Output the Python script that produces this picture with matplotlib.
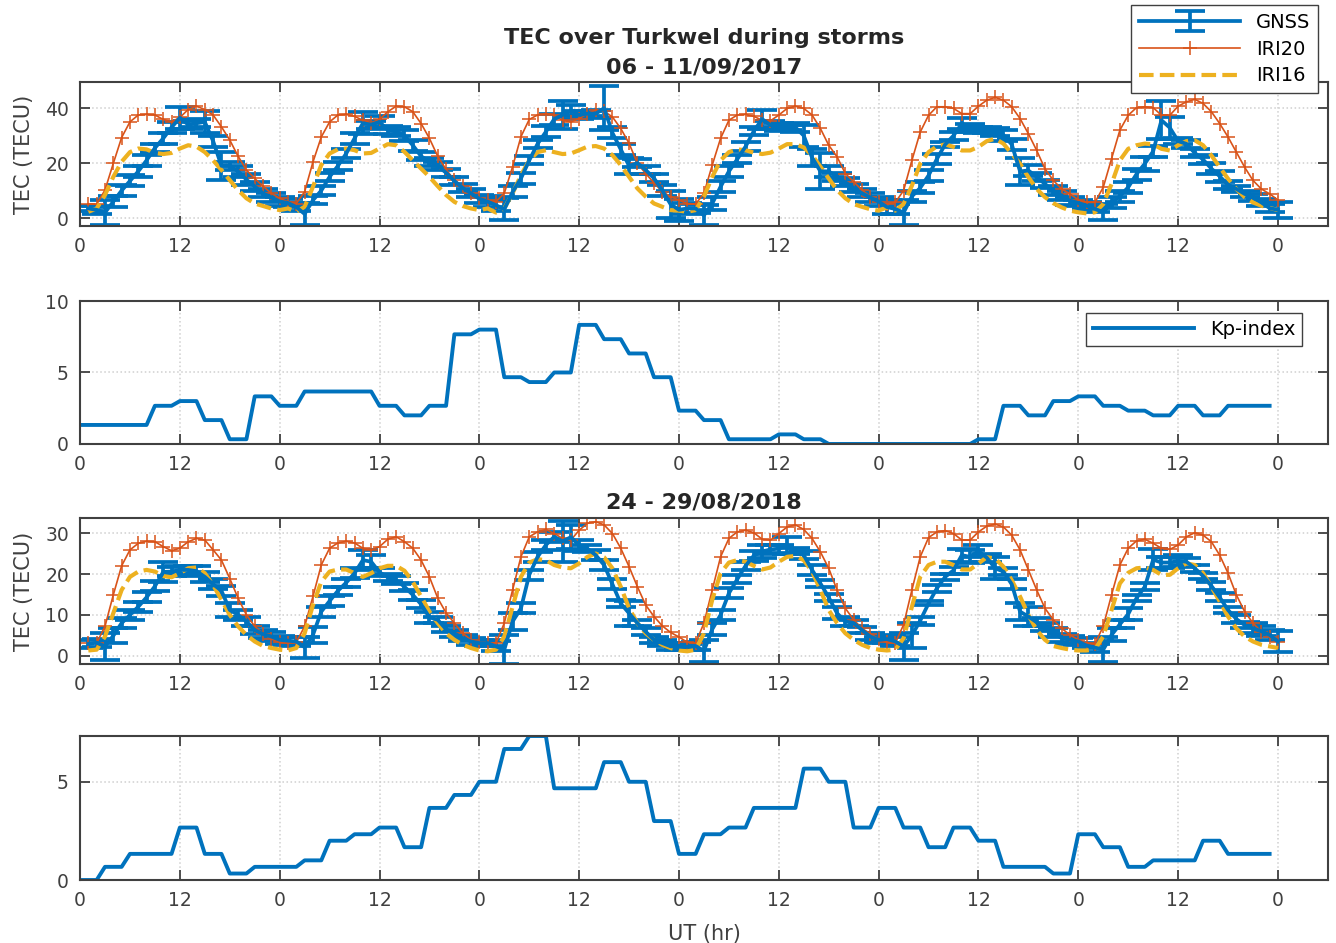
import matplotlib.pyplot as plt
import numpy as np

# hourly TEC samples, 3-hourly Kp index (shown as hourly steps)
hours = np.arange(1, 145)
kp_hours = np.arange(0, 144)

xticks = np.arange(0, 145, 12)
xticklabels = ['0', '12'] * 6 + ['0']

# ---- storm 1: 06 - 11/09/2017 ----
gnss_2017 = [3.5, 3, 2, 6, 10, 13.5, 17, 21, 25.5, 29, 33, 36.5, 34, 34.5, 35, 28, 19, 19, 17, 14, 11.5, 9, 7.5, 6,
             5.5, 4, 1.5, 6.5, 10, 15, 19, 23.5, 29, 34.5, 34, 35, 32, 31.5, 30, 26.5, 22.5, 20.5, 19, 16.5, 13.5, 11, 9, 7,
             6, 4.7, 3.2, 9.5, 14.4, 21, 27, 31.4, 36, 37.5, 39, 37.5, 38, 38, 40, 31, 25, 19, 20, 17.5, 14.5, 10, 5, 3,
             3.5, 3.5, 1, 5.3, 11.4, 17, 21.4, 26, 31.7, 36, 33.8, 33.2, 33, 33, 30, 22, 17, 17, 15, 13, 11, 9, 7.5, 6,
             4, 3.3, 2, 7.9, 11, 15.5, 21.5, 26.8, 30, 34.4, 32.9, 32, 32, 31.4, 30.2, 26.8, 17, 17.3, 15, 12.4, 10, 8.2, 6.3, 5.5,
             4.5, 3.3, 2.2, 5.5, 8, 11.2, 16, 19.8, 24.3, 35.6, 32.9, 28, 27, 23.7, 21.3, 18, 15.2, 12.1, 10.6, 8.8, 7.5, 5.7, 3.6, 3]
gnss_err_2017 = [1, 1.5, 4.5, 2, 2, 2, 2, 2, 1.5, 2, 2, 4, 1.5, 1.5, 4, 2, 5, 1.5, 2, 2, 1.5, 1.5, 1.5, 1.5,
                 1.5, 1.5, 4, 1.5, 1.5, 1.5, 1.5, 1.5, 2, 4, 1.5, 2, 1.5, 1.5, 2, 2, 1.5, 1.5, 1.5, 1.5, 1.5, 1.5, 1.5, 1.5,
                 2, 2, 4, 2, 2, 1.5, 1.5, 2, 2, 5, 2, 1.5, 1, 1.5, 8, 2, 2, 3, 1.5, 1.5, 1.5, 2, 5, 4,
                 2, 1.5, 3.6, 2.5, 2, 2, 1.5, 1.5, 1.5, 3.5, 1.5, 1.5, 1, 1.5, 4, 3, 6.5, 2, 1.5, 1.5, 1.5, 1.5, 1.5, 1.5,
                 2.4, 2, 4.4, 2, 2, 2, 1.7, 1, 1.5, 2, 1.5, 1.2, 1, 1.5, 2, 2, 5, 2, 1.5, 1.5, 1.5, 1.5, 1.5, 1,
                 1.2, 1.2, 3, 2, 2, 2, 2, 2.5, 2, 7, 4, 1, 1.5, 1.5, 1.5, 2, 2, 1.5, 1.2, 1.2, 1.2, 1.2, 1.5, 3]
iri20_2017 = [5.1, 5, 10.2, 19.9, 29.3, 35, 37.5, 37.7, 37.5, 35.9, 35, 36.6, 39.5, 40.7, 39.5, 37.5, 33.2, 28.4, 22.5, 17.5, 14.4, 11.6, 9, 7.2,
              5.9, 5.3, 9.6, 20.4, 29.5, 35, 37.5, 37.7, 37, 35.6, 34.7, 35.9, 38.7, 40.7, 40.5, 38.7, 34.4, 29, 22.5, 17.7, 13.8, 11.6, 9, 7.2,
              6.5, 6, 9, 18.7, 29.6, 35.9, 37.5, 38, 37.5, 35.6, 35, 36.2, 38, 39.3, 38.9, 36.8, 32.6, 27.2, 19.9, 16.2, 12.8, 9.6, 7.8, 6.5,
              5.3, 5.1, 9, 19.3, 29, 35.6, 37.5, 37.7, 37, 35.6, 35.4, 37.5, 39.9, 40.7, 39.9, 37.5, 32.6, 26.5, 22.3, 16.2, 13.2, 10.2, 7.8, 5.9,
              5.1, 5.7, 10, 21, 31.3, 37.4, 40.5, 40.5, 39.9, 38, 38, 40.7, 42.9, 43.9, 42.9, 40.5, 36.2, 30.7, 24.6, 17.9, 13.7, 10.6, 8.8, 6.6,
              5.7, 5.7, 11.2, 21.6, 32, 37.4, 40.2, 40.5, 40.2, 37.4, 37.4, 40.7, 42.3, 43.2, 41.7, 38.7, 34.4, 29.5, 24, 18.5, 13.7, 10.6, 8.8, 6.6]
iri16_2017 = [2.3, 3.5, 8.4, 15, 20.5, 24, 25.3, 25, 23.7, 23.3, 23.7, 25.3, 26.5, 26, 24, 21, 17.5, 13.8, 10.2, 7.2, 5.3, 4.4, 3.5, 2.9,
              3.5, 2.3, 4.1, 11.4, 19.3, 23.5, 25, 25.3, 24.7, 23.5, 23.7, 25.3, 26.9, 26.5, 24.1, 21, 18, 15, 11.6, 8.4, 5.9, 4.4, 3.5, 2.9,
              3.5, 2, 3.5, 9, 15.6, 21, 24, 24.7, 24, 23.3, 23.5, 24.7, 26, 26.2, 25.3, 22.9, 19.3, 15, 10.8, 7.8, 5.3, 4.1, 2.9, 2.7,
              2.3, 2.9, 7.8, 15, 21, 24, 25, 24.7, 23.8, 23.3, 23.8, 25.3, 26.9, 26.9, 25.7, 22.9, 18.7, 14.4, 10.2, 7.2, 5.1, 4.1, 3.2, 2.7,
              3.9, 2.7, 5.1, 11.8, 19.8, 24, 26.1, 26.8, 25.9, 24.6, 24.6, 25.9, 28, 28.9, 27.1, 23.4, 19.8, 14.9, 10.6, 7.6, 5.4, 3.9, 2.7, 2.1,
              1.7, 2.1, 5.1, 12.4, 21, 25.2, 26.5, 27.1, 26.8, 25.2, 24.6, 26.5, 28, 28.3, 26.5, 22.8, 18.5, 14.3, 10.6, 7.6, 5.7, 4.5, 3.7, 2.9]
kp_2017 = [1.33, 1.33, 1.33, 2.67, 3, 1.67, 0.33, 3.33, 2.67, 3.67, 3.67, 3.67, 2.67, 2, 2.67, 7.67,
           8, 4.67, 4.33, 5, 8.33, 7.33, 6.33, 4.67, 2.33, 1.67, 0.33, 0.33, 0.67, 0.33, 0, 0,
           0, 0, 0, 0, 0.33, 2.67, 2, 3, 3.33, 2.67, 2.33, 2, 2.67, 2, 2.67, 2.67]

# ---- storm 2: 24 - 29/08/2018 ----
gnss_2018 = [2.9, 3.2, 2.3, 4.9, 8, 10, 12, 14.3, 17, 20.5, 20.6, 21, 21, 20.7, 19.3, 17.5, 15.9, 11.2, 10, 8.4, 6.3, 5.3, 4.7, 3.9,
             3.7, 3.5, 2.1, 5.1, 10.8, 13.4, 15.9, 17.9, 20.2, 23.4, 23, 20.4, 19.2, 18.5, 16.9, 14.9, 12.6, 9.4, 8.8, 6.5, 5.5, 4.3, 3.5, 3.1,
             3.1, 2.3, 1.5, 8.4, 11.6, 19.8, 24.2, 27.1, 29.1, 28, 29, 27, 26.2, 24.6, 22.2, 17.5, 12.8, 10.4, 8, 5.9, 3.9, 3.1, 2.3, 2.3,
             2.2, 2.4, 1.2, 6.5, 10, 15.3, 18.7, 22, 24.5, 25.5, 26, 26.2, 27, 25.6, 24.6, 21, 17.7, 14.3, 10.4, 8.4, 8, 6.3, 4.7, 3.9,
             4.1, 3.5, 2.3, 5, 8.6, 12.8, 16.5, 19.3, 20.9, 24.6, 24.2, 25.6, 24, 21.4, 20.6, 17.5, 10.8, 9.6, 8.2, 7, 5.7, 4.3, 3.9, 3.5,
             2.5, 2, 1.5, 5.1, 7.7, 10.2, 14.1, 16.9, 23.5, 22.8, 22.8, 23.2, 23, 21.4, 19.5, 17.1, 14.3, 11.2, 9, 7.5, 6.7, 6, 5.1, 3.5]
gnss_err_2018 = [1, 1, 3.3, 1.8, 1.2, 1.2, 1.2, 1.2, 1.2, 2.5, 1, 1, 1, 1.2, 1.2, 1.2, 1.2, 1.8, 1.2, 1.2, 1, 1, 1, 1,
                 1, 1.2, 2.6, 2, 1.2, 1.2, 1, 1, 1.2, 2.5, 1.6, 1, 0.8, 1, 1, 1.2, 1, 1.4, 0.8, 0.8, 0.8, 0.8, 0.8, 0.8,
                 0.8, 1.2, 3.5, 2, 1.2, 1.2, 1.2, 1.2, 1.2, 5, 3, 1.4, 0.8, 1.2, 1.2, 1.2, 0.8, 3, 0.8, 0.8, 0.8, 0.8, 0.8, 0.8,
                 0.8, 1, 2.7, 1.5, 1.2, 1.2, 1, 1, 1.2, 1.5, 1, 1, 2, 0.8, 1, 1.2, 0.8, 0.8, 1.5, 1.2, 0.8, 0.8, 0.8, 0.8,
                 1, 1, 3.3, 3, 1, 0.5, 0.8, 0.8, 0.8, 1.6, 1.6, 1.4, 1, 2.7, 0.8, 1.2, 2, 2.4, 1, 1, 1, 1, 1, 0.8,
                 0.6, 1, 3, 1.6, 1, 1.4, 0.8, 0.8, 2.5, 1.4, 1.4, 1.4, 0.8, 0.8, 0.8, 1, 1, 0.8, 1, 0.8, 1.2, 1.2, 1.2, 2.5]
iri20_2018 = [3.1, 3.1, 7.2, 14.9, 22, 25.9, 27.5, 28, 27.9, 26.7, 25.7, 26.3, 27.9, 28.7, 28.3, 25.9, 23.4, 18.9, 14.1, 10, 7.2, 5.4, 4.1, 3.3,
              3.1, 3.3, 7.2, 14.5, 22.2, 26.3, 27.6, 28, 27.6, 26.3, 25.9, 26.7, 28.5, 29.1, 27.9, 26.3, 23.4, 19.3, 14.1, 10.5, 8, 5.5, 3.9, 3.3,
              3.1, 3.1, 8, 16.1, 24.2, 29.1, 30.3, 30.9, 29.9, 28.7, 28.3, 30.7, 32.4, 32.8, 32, 29.9, 26.3, 21.8, 16.9, 12.4, 9.6, 7.3, 5.7, 4.6,
              3.3, 3.1, 8, 16.1, 24.2, 28.7, 30.3, 30.7, 30.1, 28.5, 28.3, 29.9, 31.5, 32, 30.9, 28.7, 25.4, 21.4, 16.1, 11.6, 8.8, 6.7, 5.4, 4.1,
              3.3, 3.1, 7.6, 16.1, 24.2, 28.9, 30.3, 30.6, 29.9, 28.3, 28.3, 30.3, 31.7, 32.2, 31.5, 29.5, 25.9, 21, 16.1, 11.6, 8.8, 6.7, 5.1, 3.9,
              3.1, 2.9, 7.2, 14.9, 22.2, 26.3, 28.1, 28.5, 27.5, 26.3, 26, 27.1, 29.1, 30.1, 29.5, 27.9, 24.6, 20.2, 14.9, 10.8, 8, 5.9, 4.7, 3.3]
iri16_2018 = [1.3, 1.5, 4.7, 10.4, 16.1, 19.3, 20.6, 21, 20.6, 19.5, 19.2, 20.2, 21.4, 21.6, 20.2, 17.3, 13.7, 10, 7.2, 5.1, 3.5, 2.4, 1.9, 1.5,
              1.3, 1.9, 5.5, 12.4, 18.1, 20.6, 21.1, 21.1, 20.2, 19.3, 20.2, 21.4, 22, 22, 20.8, 18.1, 14.5, 10.8, 8, 5.5, 3.9, 2.7, 1.9, 1.3,
              1.1, 1.5, 4.7, 12, 19.3, 22.8, 23.6, 23.4, 22.2, 21.6, 21.4, 22.6, 24.2, 25, 24.1, 21.4, 16.9, 11.6, 8, 5.5, 3.9, 2.7, 1.9, 1.3,
              1.1, 1.5, 5.5, 13.7, 20.2, 22.8, 23.4, 23, 22, 21.1, 21.6, 23, 24.2, 24.4, 23.4, 20.6, 16.1, 11.2, 8, 5.5, 3.9, 2.7, 1.9, 1.5,
              1.3, 1.5, 4.3, 12, 19.3, 22.2, 23, 23, 22.2, 21.1, 21.1, 22.6, 24.1, 23.8, 21.8, 18.5, 14.5, 10, 6.3, 3.9, 2.4, 1.9, 1.5, 1.3,
              1.3, 1.6, 4.7, 11.2, 17.7, 20.3, 21.4, 21.6, 21, 19.8, 19.8, 21.4, 22.6, 22.2, 20.2, 16.9, 13.3, 9.6, 6.7, 4.7, 3.5, 2.7, 2.3, 1.9]
kp_2018 = [0, 0.67, 1.33, 1.33, 2.67, 1.33, 0.33, 0.67, 0.67, 1, 2, 2.33, 2.67, 1.67, 3.67, 4.33,
           5, 6.67, 7.33, 4.67, 4.67, 6, 5, 3, 1.33, 2.33, 2.67, 3.67, 3.67, 5.67, 5, 2.67,
           3.67, 2.67, 1.67, 2.67, 2, 0.67, 0.67, 0.33, 2.33, 1.67, 0.67, 1, 1, 2, 1.33, 1.33]

blue = '#0072BD'
orange = '#D95319'
yellow = '#EDB120'
dark = '#404040'


def style(ax, ylim, yticks):
    ax.set_xlim(0, 150)
    ax.set_ylim(*ylim)
    ax.set_xticks(xticks)
    ax.set_xticklabels(xticklabels)
    ax.set_yticks(yticks)
    ax.grid(True, ls=':', color='#cfcfcf', lw=1.1)
    ax.set_axisbelow(True)
    ax.tick_params(direction='in', length=7, width=1.3, top=True, right=True,
                   labelsize=13.5, colors=dark, pad=8)
    for s in ax.spines.values():
        s.set_color(dark)
        s.set_linewidth(1.5)


def tec_panel(ax, gnss, err, iri20, iri16):
    eb = ax.errorbar(hours, gnss, yerr=err, color=blue, lw=2.7, elinewidth=2.7,
                     capsize=11, capthick=2.7, label='GNSS')
    l20, = ax.plot(hours, iri20, color=orange, lw=1.2, marker='+', ms=10, mew=1.1, label='IRI20')
    l16, = ax.plot(hours, iri16, color=yellow, lw=3, ls=(0, (3.5, 1.5)), label='IRI16')
    ax.set_ylabel('TEC (TECU)', fontsize=15, color=dark)
    ax.yaxis.set_label_coords(-0.037, 0.5)
    return [eb, l20, l16]


fig = plt.figure(figsize=(13.36, 9.43), dpi=100)
left, width = 0.0599, 0.934
ax1 = fig.add_axes([left, 0.7603, width, 0.1527])
ax2 = fig.add_axes([left, 0.5292, width, 0.1516])
ax3 = fig.add_axes([left, 0.2959, width, 0.1548])
ax4 = fig.add_axes([left, 0.0668, width, 0.1527])

# storm 1 TEC
handles = tec_panel(ax1, gnss_2017, gnss_err_2017, iri20_2017, iri16_2017)
style(ax1, (-2.9, 49.5), [0, 20, 40])
ax1.set_title('TEC over Turkwel during storms\n06 - 11/09/2017', fontsize=16,
              fontweight='bold', color='#262626', pad=6, linespacing=1.6)
ax1.legend(handles, ['GNSS', 'IRI20', 'IRI16'], loc='upper right',
           bbox_to_anchor=(0.9865, 0.9947), bbox_transform=fig.transFigure,
           borderaxespad=0, fancybox=False, edgecolor=dark, framealpha=1, fontsize=14,
           handlelength=5.2, labelspacing=0.4, borderpad=0.4)

# storm 1 Kp
ax2.plot(kp_hours, np.repeat(kp_2017, 3), color=blue, lw=2.8, label='Kp-index')
style(ax2, (0, 10), [0, 5, 10])
ax2.legend(loc='upper right', bbox_to_anchor=(0.9746, 0.6681), bbox_transform=fig.transFigure,
           borderaxespad=0, fancybox=False, edgecolor=dark, framealpha=1, fontsize=14,
           handlelength=5.2, borderpad=0.35)

# storm 2 TEC
tec_panel(ax3, gnss_2018, gnss_err_2018, iri20_2018, iri16_2018)
style(ax3, (-2, 33.7), [0, 10, 20, 30])
ax3.set_title('24 - 29/08/2018', fontsize=16, fontweight='bold', color='#262626', pad=7)

# storm 2 Kp
ax4.plot(kp_hours, np.repeat(kp_2018, 3), color=blue, lw=2.8)
style(ax4, (0, 7.33), [0, 5])
ax4.set_xlabel('UT (hr)', fontsize=15, color=dark, labelpad=10)

fig.savefig('out.png', dpi=100)
